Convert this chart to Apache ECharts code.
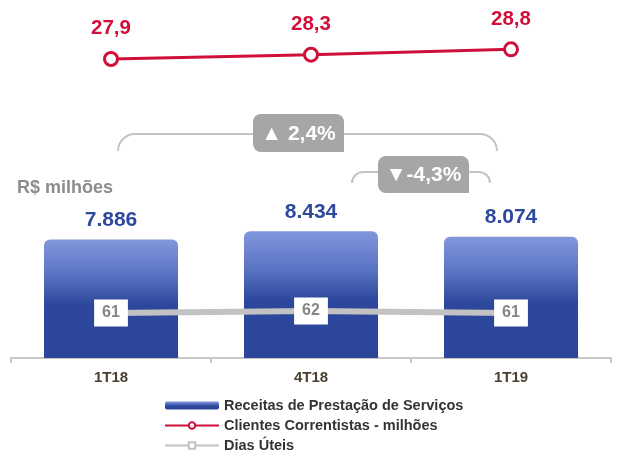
<!DOCTYPE html>
<html><head><meta charset="utf-8">
<script src="https://cdn.jsdelivr.net/npm/echarts@6/dist/echarts.min.js"></script>
<style>html,body{margin:0;padding:0;background:#fff}#c{width:617px;height:450px}</style>
</head><body><div id="c"></div>
<script>
const categories = ['1T18', '4T18', '1T19'];
const receitas = [7886, 8434, 8074];
const clientes = [27.9, 28.3, 28.8];
const diasUteis = [61, 62, 61];
const receitasLabels = ['7.886', '8.434', '8.074'];
const clientesLabels = ['27,9', '28,3', '28,8'];
const variations = ['▲ 2,4%', '▼-4,3%'];
const unitLabel = 'R$ milhões';
const seriesNames = ['Receitas de Prestação de Serviços', 'Clientes Correntistas - milhões', 'Dias Úteis'];

const FONT = '"Liberation Sans", Arial, sans-serif';
const RED = '#d0103a';
const BLUE_TXT = '#2e4a9e';
const GREY_LINE = '#c2c2c2';
const BOX = '#a6a6a6';
const BRK = '#c4c4c4';

const chart = echarts.init(document.getElementById('c'), null, {renderer: 'canvas'});

function bracket(x1, x2, yLine, yEnd, r) {
  return [
    {type: 'arc', shape: {cx: x1 + r, cy: yEnd, r: r, startAngle: Math.PI, endAngle: Math.PI * 1.5},
     style: {stroke: BRK, lineWidth: 2, fill: null}, z: 1},
    {type: 'line', shape: {x1: x1 + r, y1: yLine, x2: x2 - r, y2: yLine},
     style: {stroke: BRK, lineWidth: 2}, z: 1},
    {type: 'arc', shape: {cx: x2 - r, cy: yEnd, r: r, startAngle: Math.PI * 1.5, endAngle: Math.PI * 2},
     style: {stroke: BRK, lineWidth: 2, fill: null}, z: 1}
  ];
}
function box(x, y, w, h, text) {
  return [
    {type: 'rect', shape: {x: x, y: y, width: w, height: h, r: [8, 8, 0, 8]}, style: {fill: BOX}, z: 2},
    {type: 'text', x: x + w / 2, y: y + h / 2 + 1, z: 3,
     style: {text: text, fill: '#fff', font: 'bold 21px ' + FONT, align: 'center', verticalAlign: 'middle'}}
  ];
}

const graphics = []
  .concat(bracket(118, 497, 134, 151, 17))
  .concat(box(253, 114, 91, 38, variations[0]))
  .concat(bracket(352, 490, 172, 183, 11))
  .concat(box(378, 156, 91, 37, variations[1]))
  .concat([{type: 'text', x: 17, y: 188, z: 3,
    style: {text: unitLabel, fill: '#8c8c8c', font: 'bold 18px ' + FONT, verticalAlign: 'middle'}}]);

const option = {
  animation: false,
  backgroundColor: '#fff',
  textStyle: {fontFamily: FONT},
  grid: {left: 11, right: 6, top: 38, bottom: 92, containLabel: false},
  legend: {
    orient: 'vertical', left: 164, top: 398, height: 80, padding: 0,
    itemWidth: 54, itemHeight: 8, itemGap: 5,
    textStyle: {fontFamily: FONT, fontSize: 14.5, fontWeight: 'bold', color: '#333'},
    data: seriesNames.map(n => ({name: n}))
  },
  xAxis: {
    type: 'category', data: categories, boundaryGap: true,
    axisLine: {lineStyle: {color: '#c8c8c8', width: 2}},
    axisTick: {show: true, length: 5, lineStyle: {color: '#c8c8c8', width: 2}},
    axisLabel: {fontFamily: FONT, fontSize: 15, fontWeight: 'bold', color: '#4a4130', margin: 12}
  },
  yAxis: [
    {type: 'value', min: 0, max: 21300, show: false, splitLine: {show: false}},
    {type: 'value', min: 0, max: 29.86, show: false, splitLine: {show: false}},
    {type: 'value', min: 38.5, max: 198.5, show: false, splitLine: {show: false}}
  ],
  series: [
    {
      name: seriesNames[0], type: 'bar', data: receitas, yAxisIndex: 0, barWidth: 134, z: 2,
      itemStyle: {
        borderRadius: [6, 6, 0, 0],
        color: new echarts.graphic.LinearGradient(0, 0, 0, 1, [
          {offset: 0, color: '#8197dd'},
          {offset: 0.3, color: '#5a73c2'},
          {offset: 0.55, color: '#2c479b'},
          {offset: 1, color: '#2b4599'}
        ])
      },
      label: {
        show: true, position: 'top', distance: 9,
        formatter: p => receitasLabels[p.dataIndex],
        fontFamily: FONT, fontSize: 21, fontWeight: 'bold', color: BLUE_TXT
      }
    },
    {
      name: seriesNames[1], type: 'line', data: clientes, yAxisIndex: 1, z: 5,
      symbol: 'circle', symbolSize: 13,
      lineStyle: {color: RED, width: 3},
      itemStyle: {color: '#fff', borderColor: RED, borderWidth: 3},
      label: {
        show: true, position: 'top', distance: 12,
        formatter: p => clientesLabels[p.dataIndex],
        fontFamily: FONT, fontSize: 20.5, fontWeight: 'bold', color: RED
      }
    },
    {
      name: seriesNames[2], type: 'line', data: diasUteis, yAxisIndex: 2, z: 4,
      symbol: 'rect', symbolSize: 8,
      lineStyle: {color: GREY_LINE, width: 6},
      itemStyle: {color: '#fff', borderColor: GREY_LINE, borderWidth: 2},
      label: {
        show: true, position: 'inside',
        formatter: p => String(diasUteis[p.dataIndex]),
        fontFamily: FONT, fontSize: 16, fontWeight: 'bold', color: '#858585',
        backgroundColor: '#fff', padding: [5, 8, 5, 8], lineHeight: 17
      }
    }
  ],
  graphic: graphics
};
chart.setOption(option);
</script>
</body></html>
